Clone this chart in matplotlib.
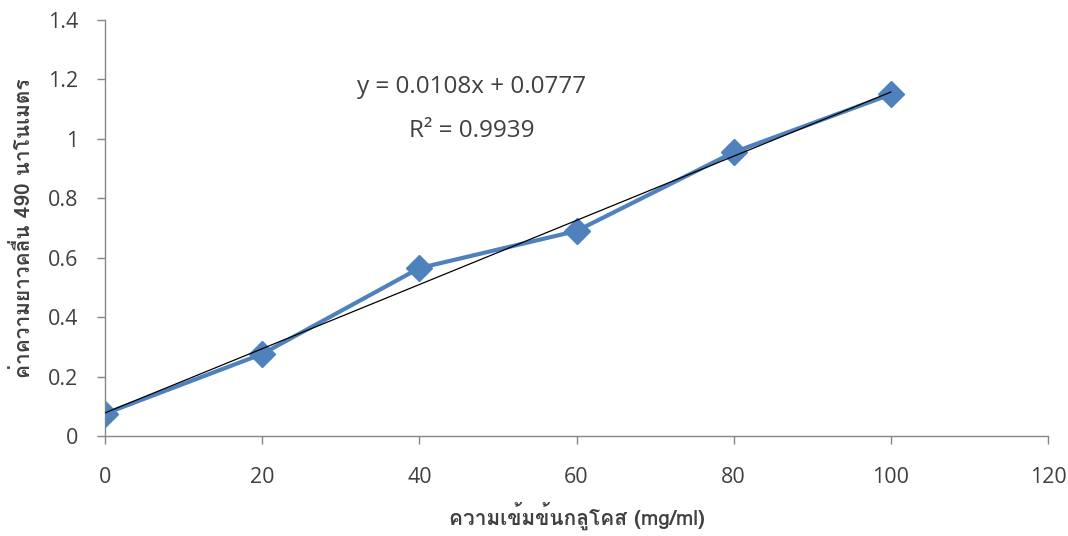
import matplotlib
matplotlib.use("Agg")
import matplotlib.pyplot as plt
from matplotlib import font_manager
from matplotlib.ft2font import FT2Font
import numpy as np

# Glucose standard curve data
concentration = [0, 20, 40, 60, 80, 100]
absorbance = [0.075, 0.276, 0.565, 0.690, 0.955, 1.150]
slope = 0.0108
intercept = 0.0777
r_squared = 0.9939

x_ticks = [0, 20, 40, 60, 80, 100, 120]
y_ticks = [0, 0.2, 0.4, 0.6, 0.8, 1.0, 1.2, 1.4]
y_tick_labels = ["0", "0.2", "0.4", "0.6", "0.8", "1", "1.2", "1.4"]
x_label = "ความเข้มข้นกลูโคส (mg/ml)"
y_label = "ค่าความยาวคลื่น 490 นาโนเมตร"

# Find any installed family that carries Thai glyphs
thai_families = []
for f in font_manager.fontManager.ttflist:
    try:
        if 0x0E01 in FT2Font(f.fname).get_charmap():
            if f.name not in thai_families:
                thai_families.append(f.name)
    except Exception:
        pass

families = thai_families + ["DejaVu Sans"]
num_font = "Open Sans"
text_color = "#404040"

fig = plt.figure(figsize=(10.68, 5.36), dpi=100)
ax = fig.add_axes([0.0983, 0.1866, 0.883, 0.776])

xfit = np.array([concentration[0], concentration[-1]])
ax.plot(concentration, absorbance, color="#4F81BD", lw=3, marker="D",
        markersize=13, zorder=2)
ax.plot(xfit, slope * xfit + intercept, color="black", lw=0.9, zorder=3)

ax.set_xlim(0, 120)
ax.set_ylim(0, 1.4)
ax.set_xticks(x_ticks)
ax.set_yticks(y_ticks)
ax.set_xticklabels([str(v) for v in x_ticks], family=num_font)
ax.set_yticklabels(y_tick_labels, family=num_font)

for s in ["top", "right"]:
    ax.spines[s].set_visible(False)
for s in ["left", "bottom"]:
    ax.spines[s].set_color("#868686")
    ax.spines[s].set_linewidth(1)
ax.tick_params(axis="both", colors="#868686", labelcolor=text_color,
               labelsize=15.5, length=6, width=1, direction="out")
ax.tick_params(axis="x", pad=16)
ax.tick_params(axis="y", pad=13)

ax.set_xlabel(x_label, family=families, fontsize=15, fontweight="bold",
              color=text_color, labelpad=10)
ax.set_ylabel(y_label, family=families, fontsize=15, fontweight="bold",
              color=text_color, labelpad=10)

ax.text(46.7, 1.175, f"y = {slope}x + {intercept}", fontsize=17.5,
        family=num_font, color=text_color, ha="center", va="center")
ax.text(46.7, 1.025, f"R² = {r_squared}", fontsize=17.5, family=num_font,
        color=text_color, ha="center", va="center")

fig.savefig("out.png", dpi=100)
